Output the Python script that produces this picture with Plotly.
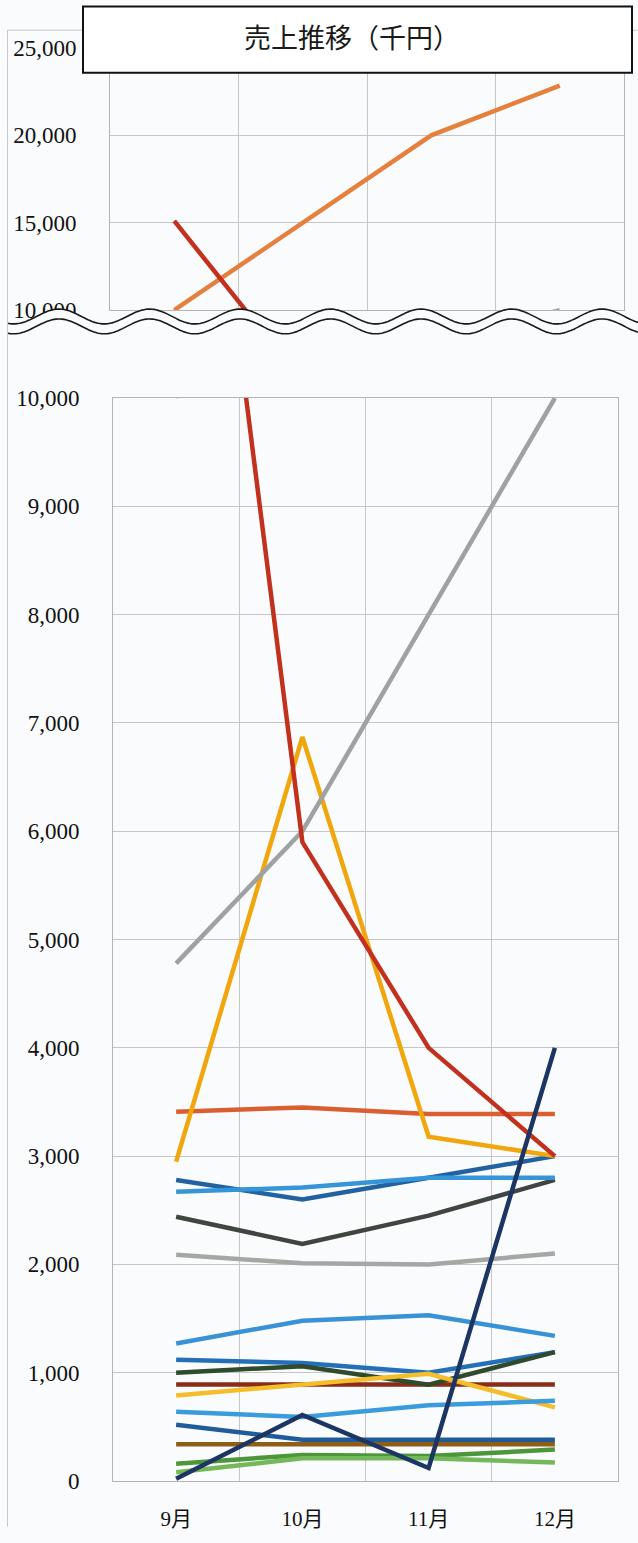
import numpy as np
import plotly.graph_objects as go

months = ["9月", "10月", "11月", "12月"]

# monthly sales (千円), one list per line
s_orange = [10000, 15000, 20000, 22850]
s_red = [15100, 5900, 4000, 3000]
s_gray = [4780, 6000, 8000, 10000]
s_gold = [2950, 6870, 3180, 3000]
s_orange_flat = [3410, 3450, 3390, 3390]
s_blue_a = [2780, 2600, 2800, 3000]
s_lightblue_a = [2670, 2710, 2800, 2800]
s_charcoal = [2440, 2190, 2450, 2780]
s_lightgray = [2090, 2010, 2000, 2100]
s_lightblue_b = [1270, 1480, 1530, 1340]
s_blue_b = [1120, 1090, 1000, 1190]
s_darkgreen = [1000, 1060, 890, 1190]
s_maroon = [890, 890, 890, 890]
s_gold_b = [790, 890, 990, 680]
s_lightblue_c = [640, 590, 700, 740]
s_navy = [20, 610, 120, 4000]
s_blue_c = [520, 380, 380, 380]
s_brown = [340, 340, 340, 340]
s_green = [160, 240, 230, 290]
s_lightgreen = [80, 210, 210, 170]

series = [
    (s_lightgray, "#A3A8A5"),
    (s_charcoal, "#3F4541"),
    (s_orange_flat, "#D95F30"),
    (s_blue_a, "#22629F"),
    (s_lightblue_a, "#3595D8"),
    (s_lightblue_b, "#3A92D6"),
    (s_maroon, "#8A2D18"),
    (s_blue_b, "#2370B8"),
    (s_darkgreen, "#2F4A2C"),
    (s_gold_b, "#F4BE2A"),
    (s_lightblue_c, "#3A9BDD"),
    (s_blue_c, "#1F5C99"),
    (s_brown, "#8E5D16"),
    (s_green, "#4C973A"),
    (s_lightgreen, "#74B85A"),
    (s_gold, "#F0A60C"),
    (s_gray, "#9FA2A2"),
    (s_orange, "#E5813E"),
    (s_red, "#C2301E"),
    (s_navy, "#1C3563"),
]

W, H = 638, 1543
ML, MR, MT, MB = 110, 14, 48, 46
PW, PH = W - ML - MR, H - MT - MB


# page pixel -> paper coordinates
def px(x):
    return (x - ML) / PW


def py(y):
    return (H - MB - y) / PH


fig = go.Figure()
for vals, col in series:
    for xa, ya in (("x", "y"), ("x2", "y2")):
        fig.add_trace(go.Scatter(
            x=months, y=vals, mode="lines", xaxis=xa, yaxis=ya,
            line=dict(color=col, width=4.5), showlegend=False,
            hoverinfo="skip",
        ))

grid = "#C6C6C6"
serif = "Liberation Serif, DejaVu Serif, Noto Sans CJK JP"
xcommon = dict(type="category", categoryorder="array", categoryarray=months,
               range=[-0.5, 3.5], tickson="boundaries",
               showgrid=True, gridcolor=grid, gridwidth=1,
               showline=True, linecolor="#B4B4B4", mirror=True, ticks="",
               zeroline=False)
ycommon = dict(showgrid=True, gridcolor=grid, gridwidth=1, tickformat=",",
               showline=True, linecolor="#B4B4B4", mirror=True, ticks="",
               zeroline=False, ticklabelstandoff=28,
               tickfont=dict(family=serif, size=23, color="#111"))

# wavy break between the two panels
xs = np.arange(8, 640, 2)
w1 = 319.5 - 7.5 * np.cos(2 * np.pi * (xs - 59) / 90.5)
w2 = w1 + 10
fill = "M " + " L ".join(f"{px(a):.4f},{py(b):.4f}" for a, b in zip(xs, w1))
fill += " L " + " L ".join(f"{px(a):.4f},{py(b + 4):.4f}" for a, b in zip(xs[::-1], w2[::-1])) + " Z"
line1 = "M " + " L ".join(f"{px(a):.4f},{py(b):.4f}" for a, b in zip(xs, w1))
line2 = "M " + " L ".join(f"{px(a):.4f},{py(b):.4f}" for a, b in zip(xs, w2))

shapes = [
    dict(type="line", xref="paper", yref="paper", x0=px(7.5), x1=px(7.5), y0=py(30), y1=py(H),
         line=dict(color="#C8C8C8", width=1)),
    dict(type="line", xref="paper", yref="paper", x0=px(7.5), x1=px(W), y0=py(30), y1=py(30),
         line=dict(color="#C8C8C8", width=1)),
    dict(type="path", xref="paper", yref="paper", path=fill, fillcolor="#FAFBFD",
         line=dict(width=0), layer="above"),
    dict(type="path", xref="paper", yref="paper", path=line1,
         line=dict(color="#1A1A1A", width=1.6), layer="above"),
    dict(type="path", xref="paper", yref="paper", path=line2,
         line=dict(color="#1A1A1A", width=1.6), layer="above"),
    # title box
    dict(type="rect", xref="paper", yref="paper", x0=px(83), x1=px(632), y0=py(73), y1=py(6),
         fillcolor="#FFFFFF", line=dict(color="#111", width=2), layer="above"),
]

fig.update_layout(
    width=W, height=H,
    margin=dict(l=ML, r=MR, t=MT, b=MB),
    paper_bgcolor="#FAFBFD", plot_bgcolor="#FAFBFD",
    showlegend=False,
    title=dict(text="売上推移（千円）", xref="container", yref="container",
               x=352 / W, y=1 - 39 / H, xanchor="center", yanchor="middle",
               font=dict(family="Noto Sans CJK JP", size=27, color="#1A1A1A")),
    xaxis=dict(xcommon, domain=[px(113), px(618)], anchor="y",
               ticklabelstandoff=19,
               tickfont=dict(family=serif, size=21, color="#111")),
    yaxis=dict(ycommon, domain=[0, py(402)], range=[0, 10000], dtick=1000, anchor="x"),
    xaxis2=dict(xcommon, domain=[0, 1], anchor="y2", showticklabels=False),
    yaxis2=dict(ycommon, domain=[py(313), 1], range=[10000, 25000], dtick=5000, anchor="x2"),
    shapes=shapes,
)

# drop the default body margin so the figure starts at the window corner
fig.write_html("out.html", config={"displayModeBar": False}, post_script=(
    "document.documentElement.style.overflow='hidden';"
    "document.body.style.margin='0';document.body.style.overflow='hidden';"))
